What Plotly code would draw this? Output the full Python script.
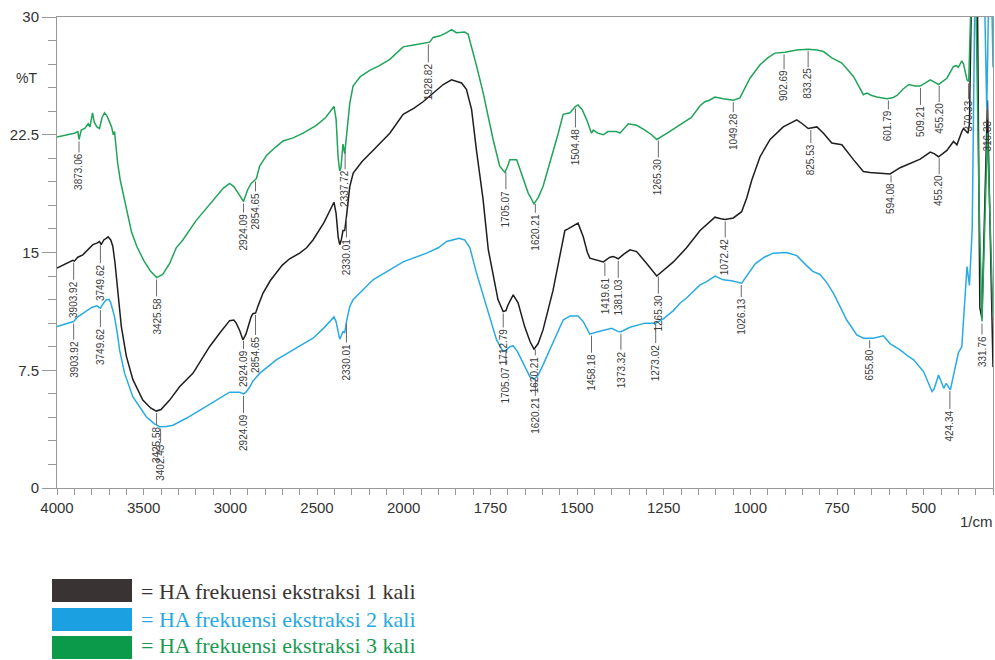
import numpy as np
import plotly.graph_objects as go

# ---- FTIR spectra: wavenumber (1/cm) and transmittance (%T) ----
wn_1 = [4000, 3960, 3930, 3909, 3900, 3880, 3851, 3820, 3793, 3770, 3755, 3745, 3730, 3716, 3705,
        3690, 3678, 3665, 3649, 3629, 3600, 3562, 3505, 3460, 3427, 3400, 3350, 3293, 3216, 3120,
        3062, 3004, 2980, 2966, 2945, 2927, 2910, 2898, 2880, 2870, 2854, 2840, 2812, 2770, 2735,
        2700, 2658, 2600, 2560, 2523, 2460, 2402, 2390, 2378, 2369, 2360, 2350, 2340, 2330, 2311,
        2291, 2240, 2177, 2080, 2003, 1970, 1944, 1915, 1886, 1862, 1848, 1833, 1819, 1804, 1790,
        1771, 1756, 1742, 1728, 1713, 1705, 1699, 1684, 1670, 1651, 1635, 1624, 1612, 1598, 1569,
        1550, 1535, 1526, 1510, 1497, 1482, 1470, 1463, 1440, 1424, 1405, 1395, 1381, 1365, 1347,
        1328, 1299, 1280, 1270, 1222, 1184, 1145, 1126, 1102, 1085, 1073, 1049, 1025, 1010, 996,
        972, 943, 905, 866, 850, 833, 808, 789, 765, 736, 702, 674, 655, 635, 597,
        568, 539, 510, 481, 470, 457, 433, 414, 404, 390, 385, 372, 368, 362, 345,
        338, 332, 316, 300]
t_1 = [14.0, 14.2, 14.4, 14.5, 14.45, 14.7, 14.85, 15.2, 15.5, 15.6, 15.7, 15.5, 15.8, 15.9, 16.0,
       15.8, 15.4, 14.3, 12.6, 10.3, 8.4, 6.9, 5.6, 5.1, 4.9, 5.0, 5.6, 6.45, 7.3, 9.0,
       9.86, 10.66, 10.7, 10.5, 10.0, 9.43, 9.8, 10.3, 10.9, 11.1, 11.15, 11.6, 12.4, 13.2, 13.7,
       14.2, 14.6, 14.96, 15.3, 15.8, 16.9, 18.2, 17.5, 16.0, 15.5, 15.8, 16.4, 16.4, 17.3, 19.2,
       20.06, 20.8, 21.5, 22.6, 23.8, 24.2, 24.6, 25.15, 25.7, 26.0, 25.9, 25.8, 25.4, 24.1, 21.5,
       18.4, 15.2, 13.7, 12.0, 11.24, 11.3, 11.66, 12.3, 11.8, 10.28, 9.3, 8.84, 9.2, 10.07, 12.6,
       14.7, 16.4, 16.5, 16.7, 16.87, 16.0, 15.0, 14.64, 14.5, 14.4, 14.7, 14.75, 14.6, 14.9, 15.17,
       15.06, 14.3, 13.8, 13.5, 14.4, 15.3, 16.4, 16.76, 17.25, 17.15, 17.1, 17.2, 17.6, 18.5, 19.6,
       21.1, 22.2, 23.0, 23.45, 23.2, 22.9, 23.0, 22.6, 21.97, 21.86, 20.9, 20.16, 20.1, 20.06, 20.0,
       20.4, 20.7, 20.95, 21.4, 21.3, 21.1, 21.5, 22.07, 21.86, 22.7, 22.9, 22.6, 23.2, 31.5, 31.5,
       11.5, 10.8, 24.7, 7.7]

wn_2 = [4000, 3960, 3930, 3904, 3880, 3832, 3800, 3770, 3750, 3730, 3716, 3700, 3690, 3680, 3668,
        3650, 3639, 3610, 3562, 3485, 3440, 3408, 3370, 3331, 3254, 3139, 3060, 3004, 2946, 2924,
        2910, 2890, 2870, 2831, 2735, 2639, 2523, 2460, 2402, 2390, 2375, 2369, 2360, 2350, 2340,
        2330, 2311, 2292, 2177, 2003, 1934, 1900, 1876, 1857, 1840, 1824, 1809, 1790, 1761, 1732,
        1713, 1703, 1694, 1684, 1672, 1660, 1636, 1624, 1612, 1598, 1569, 1540, 1520, 1497, 1482,
        1470, 1463, 1440, 1415, 1400, 1381, 1373, 1347, 1304, 1273, 1251, 1222, 1203, 1184, 1145,
        1126, 1102, 1078, 1054, 1025, 1005, 986, 960, 934, 895, 866, 837, 820, 799, 780,
        760, 722, 693, 674, 645, 630, 616, 597, 568, 545, 529, 500, 486, 476, 470,
        457, 442, 435, 423, 409, 400, 390, 375, 368, 360, 352, 325, 318, 312, 305,
        300]
t_2 = [10.28, 10.4, 10.5, 10.6, 10.9, 11.24, 11.5, 11.6, 11.45, 11.8, 11.98, 12.02, 11.8, 11.4, 10.9,
       9.7, 8.8, 7.3, 5.8, 4.54, 4.1, 3.9, 3.92, 4.0, 4.44, 5.2, 5.7, 6.1, 6.1, 5.99,
       6.1, 6.4, 6.8, 7.3, 8.16, 8.8, 9.54, 10.2, 10.9, 10.6, 9.6, 9.48, 9.7, 9.96, 9.9,
       10.6, 11.56, 12.0, 13.26, 14.4, 14.96, 15.3, 15.7, 15.8, 15.9, 15.8, 15.3, 13.7, 11.56, 9.43,
       8.69, 8.8, 9.0, 9.05, 8.7, 8.16, 7.09, 6.93, 7.2, 7.84, 9.3, 10.7, 10.96, 10.96, 10.6,
       10.1, 9.8, 9.95, 10.1, 10.17, 9.96, 9.95, 10.24, 10.5, 10.5, 10.77, 11.3, 11.77, 12.1, 12.94,
       13.15, 13.5, 13.26, 13.2, 13.05, 13.7, 14.28, 14.7, 14.96, 15.0, 14.8, 14.15, 13.8, 13.6, 13.1,
       12.4, 10.7, 9.75, 9.54, 9.54, 9.6, 9.69, 9.2, 8.8, 8.4, 8.16, 7.4, 6.67, 6.14, 6.3,
       7.2, 6.35, 6.67, 6.25, 7.73, 8.6, 9.0, 14.1, 12.9, 16.5, 32.0, 32.0, 24.1, 32.0, 33.0,
       26.8]

wn_3 = [4000, 3960, 3930, 3900, 3880, 3873, 3860, 3840, 3820, 3810, 3800, 3795, 3785, 3770, 3755,
        3740, 3726, 3712, 3700, 3685, 3675, 3668, 3660, 3650, 3635, 3620, 3595, 3570, 3540, 3500,
        3460, 3425, 3390, 3350, 3312, 3274, 3200, 3100, 3040, 3004, 2980, 2950, 2924, 2900, 2880,
        2860, 2850, 2831, 2790, 2740, 2696, 2638, 2580, 2504, 2450, 2402, 2390, 2378, 2369, 2362,
        2350, 2340, 2330, 2311, 2292, 2250, 2196, 2140, 2080, 2003, 1975, 1952, 1925, 1915, 1895,
        1876, 1862, 1848, 1835, 1824, 1814, 1800, 1790, 1771, 1742, 1723, 1708, 1700, 1694, 1674,
        1660, 1641, 1624, 1612, 1598, 1573, 1554, 1540, 1520, 1505, 1497, 1485, 1472, 1458, 1453,
        1440, 1424, 1411, 1386, 1376, 1352, 1328, 1304, 1285, 1270, 1240, 1203, 1170, 1145, 1131,
        1118, 1102, 1078, 1049, 1030, 1015, 1001, 972, 950, 929, 900, 866, 833, 808, 789,
        765, 736, 702, 674, 664, 650, 635, 606, 590, 577, 560, 543, 525, 510, 495,
        481, 465, 457, 445, 433, 414, 405, 400, 390, 385, 375, 370, 363, 350, 340,
        331.76, 316, 300]
t_3 = [22.35, 22.45, 22.5, 22.6, 22.7, 22.2, 22.8, 22.9, 23.2, 23.0, 23.6, 23.9, 23.3, 23.0, 22.9,
       23.6, 23.9, 23.7, 23.4, 23.0, 22.5, 22.7, 21.8, 20.7, 19.6, 18.8, 17.4, 16.3, 15.4, 14.5,
       13.8, 13.4, 13.6, 14.3, 15.3, 15.8, 17.0, 18.3, 19.1, 19.4, 19.2, 18.7, 18.25, 19.0, 19.4,
       19.6, 19.7, 20.5, 21.2, 21.7, 22.1, 22.3, 22.6, 23.1, 23.6, 24.3, 23.5, 21.0, 20.2, 20.4,
       21.9, 21.3, 22.5, 24.5, 25.6, 26.2, 26.6, 26.9, 27.3, 28.1, 28.2, 28.3, 28.4, 28.7, 28.8,
       29.0, 29.2, 29.0, 29.05, 29.05, 28.9, 27.8, 26.9, 25.2, 22.2, 20.5, 20.1, 20.5, 20.9, 20.9,
       20.05, 18.8, 18.1, 18.5, 19.2, 21.1, 22.6, 23.8, 23.9, 24.3, 24.4, 24.1, 23.45, 22.6, 22.8,
       22.6, 22.5, 22.7, 22.7, 22.6, 23.2, 23.1, 22.8, 22.5, 22.2, 22.6, 23.1, 23.6, 24.35, 24.6,
       24.7, 24.9, 24.8, 24.7, 24.85, 25.5, 26.1, 26.96, 27.4, 27.7, 27.75, 27.9, 27.95, 27.9, 27.8,
       27.4, 27.07, 26.2, 25.05, 25.15, 25.0, 24.9, 24.8, 24.85, 25.0, 25.4, 25.7, 25.6, 25.6, 25.8,
       26.0, 25.8, 25.7, 25.9, 26.1, 26.85, 26.9, 26.8, 27.2, 27.0, 26.0, 25.9, 31.5, 32.0, 18.0,
       10.6, 22.6, 10.9]

# ---- peak labels (wavenumbers) per spectrum ----
peaks_1 = [3903.92, 3749.62, 3425.58, 2924.09, 2854.65, 2330.01, 1712.79, 1620.21, 1419.61,
           1381.03, 1265.30, 1072.42, 825.53, 594.08, 455.20, 316.33]
peaks_2 = [3903.92, 3749.62, 3402.43, 2924.09, 2330.01, 1705.07, 1620.21, 1458.18, 1373.32,
           1273.02, 1026.13, 655.80, 424.34]
peaks_3 = [3873.06, 3425.58, 2924.09, 2854.65, 2337.72, 1928.82, 1705.07, 1620.21, 1504.48,
           1265.30, 1049.28, 902.69, 833.25, 601.79, 509.21, 455.20, 370.33, 331.76]

# distance (px) from the curve down to the top of each label
drop_1 = [19, 20, 14, 10, 22, 21, 16, 8, 15, 19, 19, 18, 15, 9, 18, 15]
drop_2 = [18, 19, 16, 19, 21, 15, 18, 19, 18, 20, 14, 10, 20]
drop_3 = [13, 19, 11, 12, 20, 20, 19, 11, 21, 19, 12, 17, 18, 11, 19, 18, 18, 13]

tick_wn = [4000, 3500, 3000, 2500, 2000, 1750, 1500, 1250, 1000, 750, 500]
y_ticks = [0, 7.5, 15, 22.5, 30]
y_ticktext = ["0", "7.5", "15", "22.5", "30"]

legend_text = ["= HA frekuensi ekstraksi 1 kali",
               "= HA frekuensi ekstraksi 2 kali",
               "= HA frekuensi ekstraksi 3 kali"]

line_colors = ["#1e1e1e", "#29abe2", "#21a35a"]
box_colors = ["#3a3333", "#1ba1e2", "#0b9a4a"]
text_colors = ["#3a3333", "#27a9e1", "#1a9a50"]


def axis_pos(w):
    """Spectrometer scale: 1/cm above 2000 is compressed 2:1 against below 2000."""
    w = np.asarray(w, dtype=float)
    return np.where(w >= 2000, 4000 - w, 2000 + 2 * (2000 - w))


W, H = 995, 660
M_L, M_R, M_T, M_B = 57, 2, 17, 172
PLOT_H = H - M_T - M_B
PLOT_W = W - M_L - M_R
Y_PER_PX = 30.0 / PLOT_H

fig = go.Figure()

series = [(wn_1, t_1), (wn_2, t_2), (wn_3, t_3)]
for (wn, t), col in zip(series, line_colors):
    fig.add_trace(go.Scatter(x=axis_pos(wn), y=t, mode="lines",
                             line=dict(color=col, width=1.5), hoverinfo="skip",
                             showlegend=False))

# peak labels with leader lines
lx, ly = [], []
annotations = []
for (wn, t), peaks, drops in zip(series, [peaks_1, peaks_2, peaks_3], [drop_1, drop_2, drop_3]):
    wn_a = np.asarray(wn, float)[::-1]
    t_a = np.asarray(t, float)[::-1]
    for p, d in zip(peaks, drops):
        yv = float(np.interp(p, wn_a, t_a))
        xv = float(axis_pos(p))
        lx += [xv, xv, None]
        ly += [yv - 2 * Y_PER_PX, yv - d * Y_PER_PX, None]
        annotations.append(dict(x=xv, y=yv - d * Y_PER_PX, xref="x", yref="y",
                                text=f"{p:.2f}", textangle=-90, showarrow=False,
                                xanchor="center", yanchor="top", borderpad=0,
                                font=dict(family="Liberation Sans, Arial", size=10, color="#3c3c3c")))

fig.add_trace(go.Scatter(x=lx, y=ly, mode="lines", line=dict(color="#6a6a6a", width=1),
                         hoverinfo="skip", showlegend=False))


def px_x(px):
    return (px - M_L) / PLOT_W


def px_y(py):
    return (H - M_B - py) / PLOT_H


annotations.append(dict(x=px_x(26), y=px_y(78), xref="paper", yref="paper", text="%T",
                        showarrow=False, xanchor="center", yanchor="middle",
                        font=dict(family="Liberation Sans, Arial", size=14, color="#333")))
annotations.append(dict(x=px_x(995), y=px_y(521), xref="paper", yref="paper", text="1/cm",
                        showarrow=False, xanchor="right", yanchor="middle",
                        font=dict(family="Liberation Sans, Arial", size=15, color="#333")))

# legend key: colour boxes with captions below the plot
shapes = []
box_tops = [579, 608, 636]
text_mid = [591, 619, 645]
for i, (txt, bc, tc) in enumerate(zip(legend_text, box_colors, text_colors)):
    top = box_tops[i]
    shapes.append(dict(type="rect", xref="paper", yref="paper",
                       x0=px_x(52), x1=px_x(132), y0=px_y(top), y1=px_y(top + 23),
                       fillcolor=bc, line=dict(width=0)))
    annotations.append(dict(x=px_x(139), y=px_y(text_mid[i]), xref="paper", yref="paper",
                            text=txt, showarrow=False, xanchor="left", yanchor="middle",
                            font=dict(family="Liberation Serif, Times New Roman", size=22, color=tc)))

axis_font = dict(family="Liberation Sans, Arial", size=15, color="#333")

fig.update_layout(
    width=W, height=H,
    margin=dict(l=M_L, r=M_R, t=M_T, b=M_B),
    paper_bgcolor="white", plot_bgcolor="white",
    xaxis=dict(range=[0, 5400], tickmode="array", tickvals=axis_pos(tick_wn),
               ticktext=[str(v) for v in tick_wn], ticks="outside", ticklen=6,
               tickcolor="#999", showline=True, linecolor="#999", mirror=True,
               showgrid=False, zeroline=False, tickfont=axis_font,
               minor=dict(dtick=100, tick0=0, ticks="outside", ticklen=6, tickcolor="#999")),
    yaxis=dict(range=[0, 30], tickmode="array", tickvals=y_ticks, ticktext=y_ticktext,
               ticks="outside", ticklen=14, tickcolor="#999", showline=True,
               linecolor="#999", mirror=True, showgrid=False, zeroline=False,
               tickfont=axis_font,
               minor=dict(dtick=1.5, tick0=0, ticks="outside", ticklen=8, tickcolor="#999")),
    annotations=annotations,
    shapes=shapes,
)

fig.write_html("out.html")
